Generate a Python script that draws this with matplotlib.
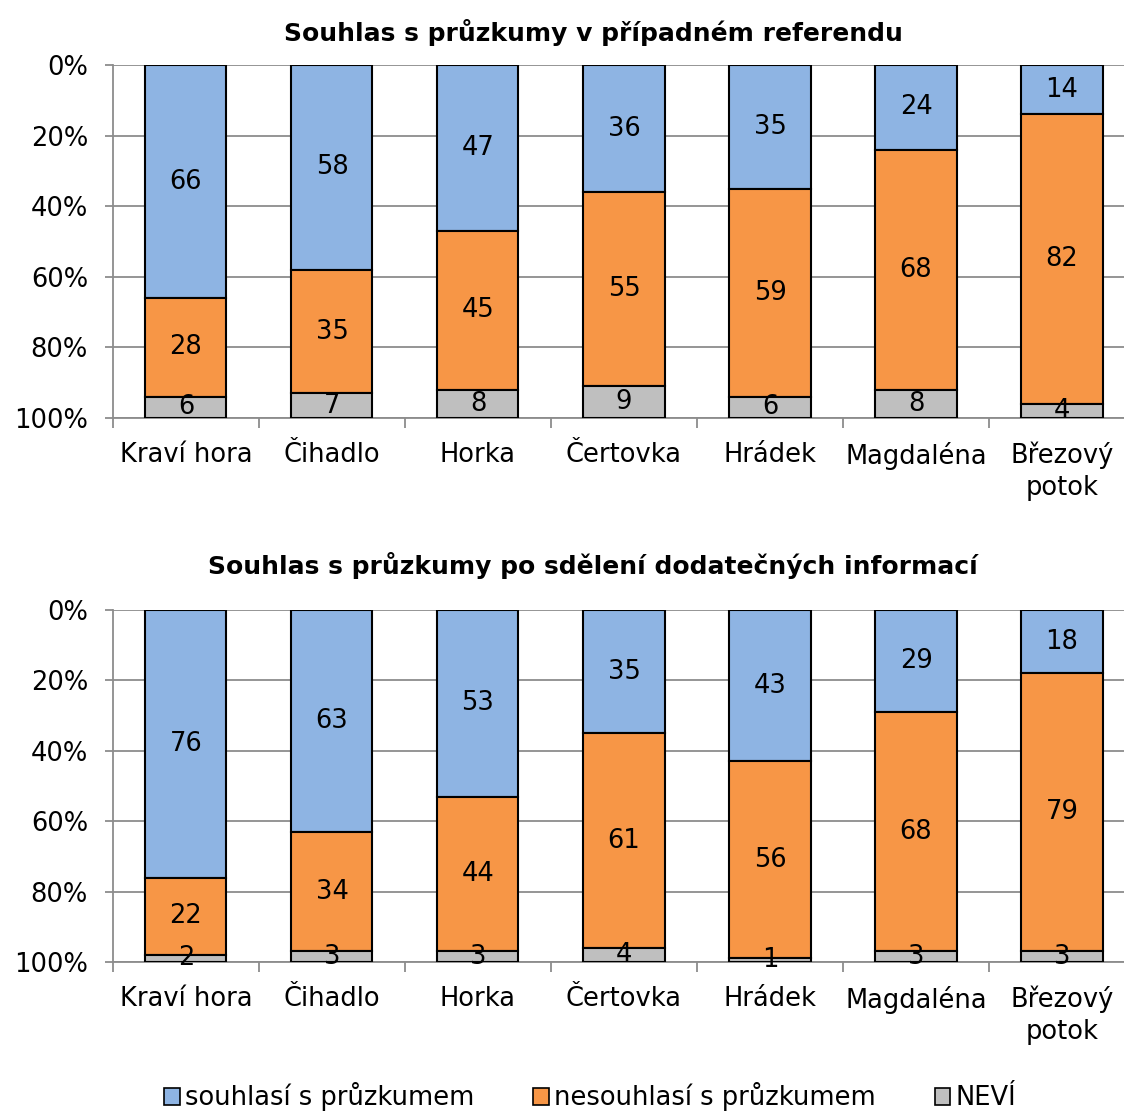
import matplotlib
matplotlib.use("Agg")
import matplotlib.pyplot as plt
import numpy as np
from matplotlib.patches import Patch

plt.rcParams['font.family'] = ['DejaVu Sans']

categories = ["Kraví hora", "Čihadlo", "Horka", "Čertovka", "Hrádek", "Magdaléna", "Březový\npotok"]
series_names = ["souhlasí s průzkumem", "nesouhlasí s průzkumem", "NEVÍ"]
colors = ["#8EB4E3", "#F79646", "#BFBFBF"]

title1 = "Souhlas s průzkumy v případném referendu"
agree1 = [66, 58, 47, 36, 35, 24, 14]
disagree1 = [28, 35, 45, 55, 59, 68, 82]
dontknow1 = [6, 7, 8, 9, 6, 8, 4]

title2 = "Souhlas s průzkumy po sdělení dodatečných informací"
agree2 = [76, 63, 53, 35, 43, 29, 18]
disagree2 = [22, 34, 44, 61, 56, 68, 79]
dontknow2 = [2, 3, 3, 4, 1, 3, 3]

yticks = [0, 20, 40, 60, 80, 100]
ytick_labels = ["0%", "20%", "40%", "60%", "80%", "100%"]

FS = 18.5

fig = plt.figure(figsize=(11.24, 11.12), dpi=100)
ax1 = fig.add_axes([0.1005, 0.6241, 0.9093, 0.3174])
ax2 = fig.add_axes([0.1005, 0.1349, 0.9093, 0.3165])

grid_color = "#8C8C8C"

def draw(ax, title, series, title_pad):
    x = np.arange(len(categories))
    bottom = np.zeros(len(categories))
    for vals, col in zip(series, colors):
        vals = np.array(vals, dtype=float)
        ax.bar(x, vals, bottom=bottom, width=0.555, color=col, edgecolor="black",
               linewidth=1.5, zorder=3)
        for xi, b, v in zip(x, bottom, vals):
            ax.text(xi, b + v / 2, f"{int(v)}", ha="center", va="center",
                    fontsize=FS, zorder=4)
        bottom += vals
    ax.set_xlim(-0.5, len(categories) - 0.5)
    ax.set_ylim(100, 0)
    ax.set_yticks(yticks)
    ax.set_yticklabels(ytick_labels, fontsize=FS)
    ax.yaxis.grid(True, color=grid_color, linewidth=1.3, zorder=0)
    ax.set_xticks(x)
    ax.set_xticklabels(categories, fontsize=FS, linespacing=1.3)
    ax.set_xticks(np.arange(len(categories) + 1) - 0.5, minor=True)
    ax.tick_params(axis="x", which="major", length=0, pad=17)
    ax.tick_params(axis="x", which="minor", length=7, color=grid_color, width=1.3)
    ax.tick_params(axis="y", length=6, color=grid_color, width=1.3, pad=12)
    for s in ["top", "right"]:
        ax.spines[s].set_visible(False)
    for s in ["left", "bottom"]:
        ax.spines[s].set_color(grid_color)
        ax.spines[s].set_linewidth(1.3)
    ax.set_title(title, fontsize=18, fontweight="bold", pad=title_pad, x=0.47)

draw(ax1, title1, [agree1, disagree1, dontknow1], 17)
draw(ax2, title2, [agree2, disagree2, dontknow2], 26)

handles = [Patch(facecolor=c, edgecolor="black", linewidth=1.2) for c in colors]
fig.legend(handles, series_names, loc="center", bbox_to_anchor=(0.525, 0.0135),
           ncol=3, frameon=False, fontsize=FS, handlelength=0.6, handleheight=0.6,
           handletextpad=0.2, columnspacing=2.3, borderpad=0.1)

fig.savefig("out.png", dpi=100)
